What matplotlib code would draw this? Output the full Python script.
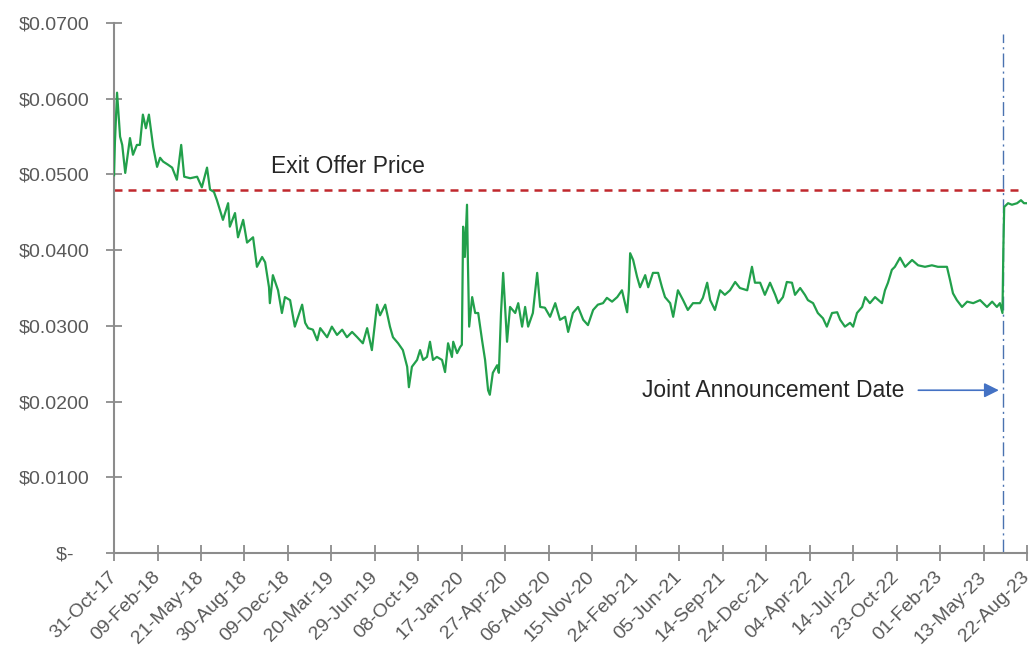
import numpy as np
import pandas as pd
import matplotlib
matplotlib.use("Agg")
import matplotlib.pyplot as plt
import matplotlib.dates as mdates
from matplotlib.ticker import FuncFormatter

plt.rcParams['font.family'] = ['Liberation Sans', 'DejaVu Sans']

# Share price (days counted from 31-Oct-17)
start = pd.Timestamp('2017-10-31')
end = pd.Timestamp('2023-08-22')
days = [0, 2, 7, 14, 19, 26, 30, 37, 44, 53, 60, 67, 74, 81, 91, 100, 107, 114, 125, 135,
        146, 156, 163, 177, 193, 204, 216, 223, 232, 239, 253, 265, 269, 281, 288, 300, 309, 323, 332, 344,
        351, 360, 362, 369, 381, 390, 397, 409, 420, 437, 444, 451, 462, 472, 479, 495, 506, 518, 530, 541,
        553, 565, 578, 588, 599, 611, 618, 630, 641, 648, 660, 671, 681, 685, 692, 704, 711, 718, 727, 734,
        741, 750, 762, 769, 776, 785, 788, 797, 804, 808, 811, 815, 820, 822, 825, 832, 839, 846, 855, 862,
        869, 873, 880, 890, 894, 899, 904, 913, 920, 932, 939, 948, 955, 962, 973, 983, 990, 1001, 1013, 1025,
        1036, 1048, 1055, 1066, 1078, 1090, 1101, 1113, 1124, 1136, 1145, 1157, 1169, 1180, 1192, 1196, 1199, 1206, 1215, 1222,
        1234, 1241, 1252, 1264, 1273, 1280, 1292, 1299, 1310, 1322, 1333, 1345, 1361, 1368, 1378, 1385, 1396, 1408, 1419, 1431,
        1443, 1454, 1471, 1482, 1489, 1501, 1512, 1524, 1536, 1543, 1554, 1563, 1575, 1582, 1594, 1605, 1612, 1624, 1635, 1647,
        1656, 1668, 1680, 1687, 1698, 1710, 1717, 1726, 1738, 1745, 1756, 1768, 1784, 1791, 1798, 1807, 1814, 1826, 1838, 1854,
        1868, 1884, 1900, 1914, 1935, 1942, 1949, 1958, 1970, 1982, 1996, 2012, 2028, 2040, 2051, 2058, 2064, 2066, 2068, 2077,
        2086, 2098, 2107, 2114, 2121]
price = [0.0499, 0.0542, 0.0608, 0.0550, 0.0539, 0.0502, 0.0519, 0.0548, 0.0526, 0.0539, 0.0539, 0.0579, 0.0561, 0.0579, 0.0536, 0.0510, 0.0522, 0.0517, 0.0513, 0.0509,
         0.0493, 0.0539, 0.0497, 0.0495, 0.0497, 0.0483, 0.0509, 0.0480, 0.0477, 0.0466, 0.0440, 0.0462, 0.0431, 0.0449, 0.0417, 0.0440, 0.0410, 0.0417, 0.0378, 0.0391,
         0.0384, 0.0351, 0.0330, 0.0367, 0.0347, 0.0317, 0.0338, 0.0334, 0.0299, 0.0328, 0.0304, 0.0297, 0.0295, 0.0281, 0.0297, 0.0285, 0.0299, 0.0288, 0.0295, 0.0285,
         0.0292, 0.0285, 0.0277, 0.0297, 0.0268, 0.0328, 0.0314, 0.0328, 0.0299, 0.0285, 0.0277, 0.0268, 0.0246, 0.0219, 0.0246, 0.0255, 0.0268, 0.0255, 0.0259, 0.0279,
         0.0255, 0.0259, 0.0255, 0.0239, 0.0277, 0.0259, 0.0279, 0.0264, 0.0272, 0.0275, 0.0431, 0.0391, 0.0460, 0.0387, 0.0299, 0.0338, 0.0317, 0.0317, 0.0281, 0.0255,
         0.0215, 0.0209, 0.0238, 0.0248, 0.0238, 0.0317, 0.0370, 0.0279, 0.0325, 0.0317, 0.0330, 0.0299, 0.0325, 0.0299, 0.0317, 0.0370, 0.0325, 0.0324, 0.0312, 0.0330,
         0.0308, 0.0312, 0.0292, 0.0317, 0.0325, 0.0308, 0.0301, 0.0321, 0.0328, 0.0330, 0.0337, 0.0332, 0.0338, 0.0347, 0.0318, 0.0347, 0.0396, 0.0387, 0.0365, 0.0351,
         0.0367, 0.0351, 0.0370, 0.0370, 0.0351, 0.0338, 0.0330, 0.0312, 0.0347, 0.0334, 0.0321, 0.0330, 0.0330, 0.0337, 0.0357, 0.0334, 0.0321, 0.0347, 0.0341, 0.0347,
         0.0358, 0.0350, 0.0347, 0.0378, 0.0357, 0.0357, 0.0341, 0.0357, 0.0341, 0.0330, 0.0338, 0.0358, 0.0357, 0.0341, 0.0350, 0.0341, 0.0334, 0.0330, 0.0317, 0.0310,
         0.0299, 0.0317, 0.0318, 0.0308, 0.0299, 0.0304, 0.0299, 0.0317, 0.0325, 0.0338, 0.0330, 0.0338, 0.0330, 0.0347, 0.0357, 0.0374, 0.0378, 0.0390, 0.0378, 0.0387,
         0.0380, 0.0378, 0.0380, 0.0378, 0.0378, 0.0361, 0.0343, 0.0334, 0.0325, 0.0332, 0.0330, 0.0334, 0.0325, 0.0332, 0.0325, 0.0330, 0.0317, 0.0400, 0.0457, 0.0462,
         0.0460, 0.0462, 0.0466, 0.0462, 0.0462]

exit_price = 0.048
announce_date = pd.Timestamp('2023-06-27')

dates = start + pd.to_timedelta(days, unit='D')
tick_dates = [start + pd.Timedelta(days=101 * k) for k in range(22)]

fig = plt.figure(figsize=(10.33, 6.5), dpi=100)
ax = fig.add_axes([0.1104, 0.1492, 0.8838, 0.8154])

ax.plot(dates, price, color='#22a04b', lw=1.6, zorder=3)

# exit offer price
ax.plot([start, pd.Timestamp('2023-08-05')], [exit_price, exit_price],
        color='#c0282d', lw=1.8, ls=(0, (3.2, 2.4)), zorder=2)
ax.text(pd.Timestamp('2018-10-31'), 0.0511, 'Exit Offer Price', fontsize=16.5,
        color='#262626', ha='left', va='center')

# joint announcement date
ax.plot([announce_date, announce_date], [0, 0.0685], color='#4a72b0', lw=1.0,
        ls=(0, (10, 3, 1.5, 3)), zorder=2)
ax.text(pd.Timestamp('2022-11-10'), 0.0215, 'Joint Announcement Date', fontsize=16.5,
        color='#262626', ha='right', va='center')
ax.annotate('', xy=(announce_date - pd.Timedelta(days=3), 0.0215),
            xytext=(pd.Timestamp('2022-12-06'), 0.0215),
            arrowprops=dict(arrowstyle='-|>', color='#4472c4', lw=1.2, mutation_scale=22))

ax.set_xlim(start, end)
ax.set_ylim(0, 0.07)
ax.set_yticks(np.arange(0, 0.0701, 0.01))
ax.yaxis.set_major_formatter(FuncFormatter(lambda v, p: '$-   ' if abs(v) < 1e-9 else '${:.4f}'.format(v)))
ax.set_xticks(tick_dates)
ax.xaxis.set_major_formatter(mdates.DateFormatter('%d-%b-%y'))

for s in ['top', 'right']:
    ax.spines[s].set_visible(False)
for s in ['left', 'bottom']:
    ax.spines[s].set_color('#8c8c8c')
    ax.spines[s].set_linewidth(1.5)

ax.tick_params(axis='both', direction='inout', length=11, width=1.3, color='#8c8c8c',
               labelsize=14, labelcolor='#595959')
ax.tick_params(axis='y', pad=12)
ax.tick_params(axis='x', pad=10)
for lbl in ax.get_xticklabels():
    lbl.set_rotation(45)
    lbl.set_ha('right')
    lbl.set_va('center')
    lbl.set_rotation_mode('anchor')

fig.savefig('out.png', dpi=100)
